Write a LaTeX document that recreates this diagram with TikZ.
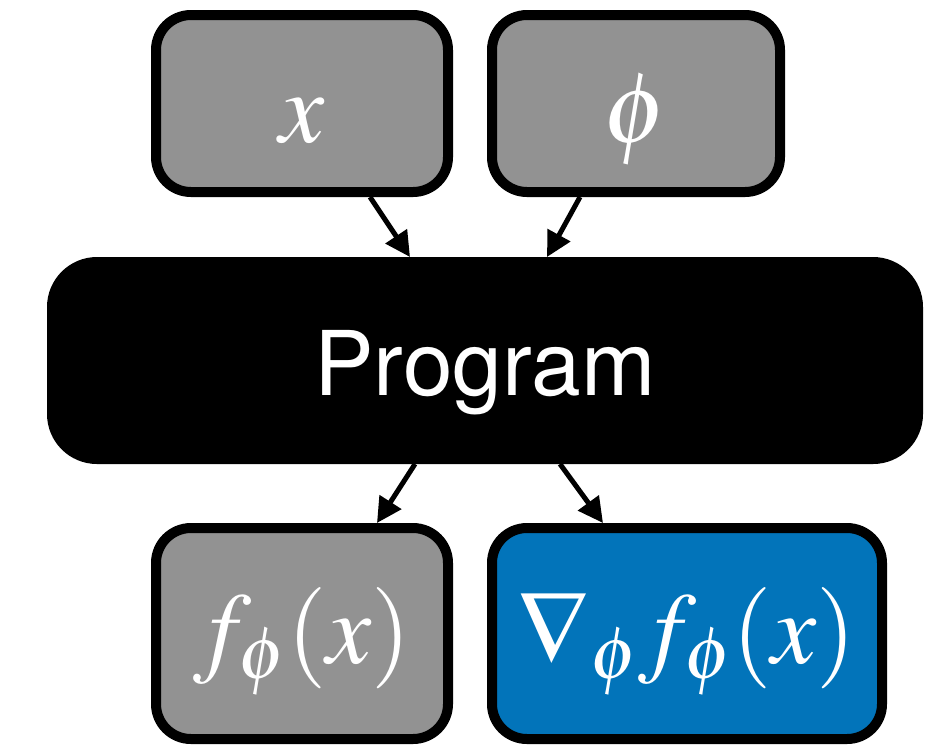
\documentclass[tikz,border=0pt]{standalone}
\usepackage{fontspec}
\usepackage{mathptmx}
\newfontfamily\progfont{TeX Gyre Heros}
\usetikzlibrary{arrows.meta,calc}
\definecolor{boxgray}{RGB}{146,146,146}
\definecolor{gradblue}{RGB}{2,116,186}

\tikzset{
  valbox/.style={draw=black, line width=7.5pt, rounded corners=26.25pt,
    fill=boxgray, text=white, inner sep=0pt,
    font=\fontsize{76}{90}\selectfont},
  topbox/.style={valbox, minimum height=132.75pt, text height=57.75pt, text depth=0pt},
  botbox/.style={valbox, minimum height=158.25pt, text height=44.25pt, text depth=0pt},
  progbox/.style={fill=black, rounded corners=37.5pt, text=white, inner sep=0pt,
    outer sep=0pt, minimum width=657pt, minimum height=155.25pt,
    text height=51.75pt, text depth=0pt,
    font=\progfont\fontsize{67}{80}\selectfont},
  conn/.style={line width=3.75pt, -{Triangle[length=18.75pt, width=18.75pt]}}
}

\begin{document}
\begin{tikzpicture}[x=0.75pt, y=-0.75pt]
  \useasboundingbox (0,0) rectangle (949,744);

  % inputs
  \node[topbox, minimum width=219pt] (x) at (302,103.5) {$x$};
  \node[topbox, minimum width=216pt] (phi) at (636,103.5) {$\phi$};

  % the program
  \node[progbox] (prog) at (485,360.5) {Program};

  % outputs
  \node[botbox, minimum width=219pt] (f) at (302,633.5) {$f_\phi(x)$};
  \node[botbox, minimum width=292.5pt, fill=gradblue] (grad) at (687,633.5) {$\nabla_\phi f_\phi(x)$};

  % data flow
  \draw[conn] ($(x.south)+(68,0)$) -- ($(prog.north)+(-75,0)$);
  \draw[conn] ($(phi.south)+(-56,0)$) -- ($(prog.north)+(62,0)$);
  \draw[conn] ($(prog.south)+(-70,0)$) -- ($(f.north)+(75,0)$);
  \draw[conn] ($(prog.south)+(75,0)$) -- ($(grad.north)+(-84,0)$);
\end{tikzpicture}
\end{document}
